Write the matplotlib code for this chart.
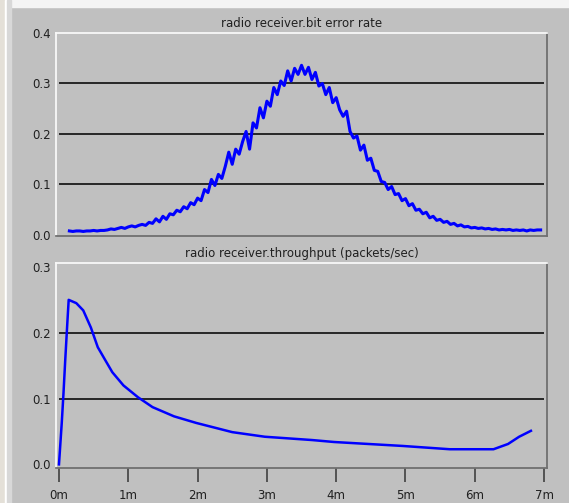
import numpy as np
import matplotlib.pyplot as plt
from matplotlib.patches import Rectangle

# ── data (time in minutes) ──
ber_t = np.round(np.arange(0.15, 6.951, 0.05), 2)
ber_vals = [
    .008, .007, .008, .008, .007, .008, .008, .009, .008, .009,
    .009, .010, .012, .011, .013, .015, .013, .016, .018, .016,
    .019, .021, .019, .025, .023, .032, .026, .037, .031, .042,
    .040, .049, .046, .056, .052, .064, .060, .073, .068, .090,
    .084, .110, .098, .120, .112, .136, .164, .140, .170, .160,
    .185, .205, .170, .222, .212, .252, .232, .265, .255, .292,
    .278, .305, .296, .325, .305, .330, .318, .336, .318, .332,
    .308, .322, .295, .300, .278, .292, .262, .272, .248, .235,
    .245, .205, .192, .196, .168, .178, .148, .152, .128, .126,
    .106, .104, .090, .096, .080, .082, .068, .072, .058, .062,
    .049, .051, .042, .045, .034, .037, .029, .031, .025, .027,
    .021, .023, .018, .020, .016, .017, .014, .015, .013, .014,
    .012, .013, .011, .012, .010, .011, .010, .011, .009, .010,
    .009, .010, .008, .010, .009, .010, .010,
]

thr_t = [0.0, 0.04, 0.065, 0.09, 0.12, 0.14, 0.25, 0.35, 0.46, 0.56,
         0.67, 0.77, 0.93, 1.14, 1.35, 1.66, 1.98, 2.50, 2.97, 3.65,
         3.97, 4.96, 5.64, 6.27, 6.48, 6.64, 6.81]
thr_vals = [0.0, 0.063, 0.108, 0.158, 0.214, 0.250, 0.245, 0.234, 0.208, 0.178,
            0.158, 0.140, 0.120, 0.102, 0.087, 0.073, 0.063, 0.049, 0.042, 0.037,
            0.034, 0.028, 0.023, 0.023, 0.031, 0.042, 0.051]

x_ticks = [0, 1, 2, 3, 4, 5, 6, 7]
x_labels = ['0m', '1m', '2m', '3m', '4m', '5m', '6m', '7m']

BG = '#c0c0c0'
W, H = 569, 503

fig = plt.figure(figsize=(W / 100, H / 100), dpi=100, facecolor=BG)

# window frame strips
fig.patches.append(Rectangle((0, 1 - 7 / H), 1, 7 / H, transform=fig.transFigure,
                             color='#f4f4f4', zorder=-1))
fig.patches.append(Rectangle((0, 0), 5 / W, 1, transform=fig.transFigure,
                             color='#e4e0d8', zorder=-1))
fig.patches.append(Rectangle((5 / W, 0), 2 / W, 1, transform=fig.transFigure,
                             color='#ffffff', zorder=-1))
fig.patches.append(Rectangle((7 / W, 0), 4 / W, 1, transform=fig.transFigure,
                             color='#d8d8d8', zorder=-1))


def style_axes(ax):
    ax.set_facecolor(BG)
    ax.spines['top'].set_color('#f8f8f8')
    ax.spines['left'].set_color('#f8f8f8')
    ax.spines['right'].set_color('#707070')
    ax.spines['bottom'].set_color('#707070')
    for s in ax.spines.values():
        s.set_linewidth(1.3)
    ax.set_xlim(-0.043, 7.042)
    ax.tick_params(axis='y', length=0, pad=4, labelsize=8.5, labelcolor='#202020')


ax1 = fig.add_axes([56 / W, 1 - 236 / H, 491 / W, 203 / H])
style_axes(ax1)
ax1.set_ylim(-0.002, 0.4)
ax1.set_yticks([0.0, 0.1, 0.2, 0.3, 0.4])
ax1.set_yticklabels(['0.0', '0.1', '0.2', '0.3', '0.4'])
ax1.set_xticks([])
ax1.hlines([0.1, 0.2, 0.3], 0, 7, color='#1a1a1a', lw=1.3, zorder=1)
ax1.plot(ber_t, ber_vals, color='#0000ff', lw=2.2, zorder=2)
ax1.set_title('radio receiver.bit error rate', fontsize=8.5, color='#202020', pad=4)

ax2 = fig.add_axes([56 / W, 1 - 468 / H, 491 / W, 205 / H])
style_axes(ax2)
ax2.set_ylim(-0.0055, 0.306)
ax2.set_yticks([0.0, 0.1, 0.2, 0.3])
ax2.set_yticklabels(['0.0', '0.1', '0.2', '0.3'])
ax2.set_xticks(x_ticks)
ax2.set_xticklabels(x_labels)
ax2.tick_params(axis='x', length=10, width=1.2, color='#404040', pad=5,
                labelsize=8.5, labelcolor='#202020')
ax2.hlines([0.1, 0.2], 0, 7, color='#1a1a1a', lw=1.3, zorder=1)
ax2.plot(thr_t, thr_vals, color='#0000ff', lw=1.8, zorder=2)
ax2.set_title('radio receiver.throughput (packets/sec)', fontsize=8.5,
              color='#202020', pad=4)

fig.savefig('out.png', dpi=100, facecolor=BG)
